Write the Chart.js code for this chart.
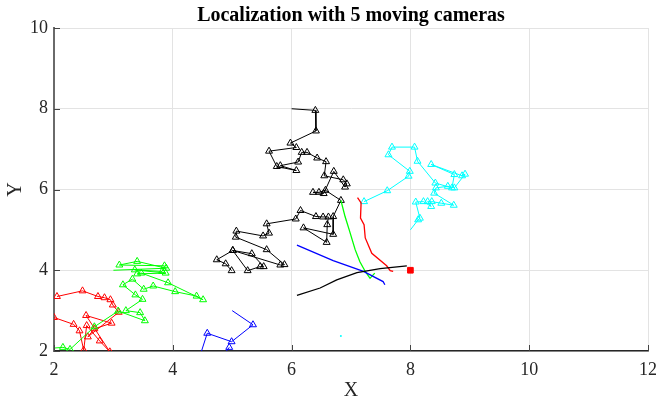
<!DOCTYPE html>
<html lang="en">

<head>
    <meta charset="UTF-8">
    <title>Localization with 5 moving cameras</title>
    <script src="https://cdn.jsdelivr.net/npm/chart.js"></script>
    <style>
        body {
            margin: 0;
            background: #fff;
        }

        #wrap {
            width: 660px;
            height: 399px;
        }
    </style>
</head>

<body>
    <div id="wrap"><canvas id="chart" width="660" height="399"></canvas></div>

    <script>
        // camera tracks (triangle markers)
        const blackCamX = [6.00, 6.40, 6.41, 5.98, 6.08, 5.62, 5.75, 6.08, 5.81, 6.11, 6.17, 6.26, 6.43, 6.58, 6.55, 6.87, 6.93, 6.90, 6.71, 6.54, 6.36, 6.46, 6.57, 6.83, 6.70, 6.70, 6.20, 6.59, 6.60, 6.62, 6.53, 6.41, 6.15, 6.07, 5.58, 5.62, 5.52, 5.07, 5.06, 5.58, 5.88, 5.81, 5.01, 5.33, 5.53, 5.47, 5.26, 5.01, 4.74, 4.89, 4.99];
        const blackCamY = [8.00, 7.96, 7.45, 7.15, 7.04, 6.95, 6.57, 6.47, 6.59, 6.68, 6.92, 6.92, 6.78, 6.69, 6.34, 6.24, 6.14, 6.06, 6.45, 5.90, 5.93, 5.93, 5.98, 5.73, 5.33, 4.89, 5.05, 4.69, 5.13, 5.32, 5.32, 5.33, 5.48, 5.27, 5.15, 4.92, 4.85, 4.97, 4.82, 4.51, 4.14, 4.13, 4.49, 4.41, 4.09, 4.09, 3.99, 4.49, 4.26, 4.16, 3.99];
        const cyanCamX = [8.00, 8.13, 8.16, 8.09, 8.22, 8.35, 8.29, 8.36, 8.52, 8.73, 8.40, 8.43, 8.63, 8.74, 8.92, 8.87, 8.35, 8.74, 8.70, 8.42, 8.12, 8.07, 7.69, 7.63, 7.99, 7.97, 7.61, 7.22];
        const cyanCamY = [5.00, 5.25, 5.29, 5.69, 5.70, 5.58, 5.70, 5.70, 5.66, 5.61, 5.91, 6.04, 6.08, 6.04, 6.38, 6.34, 6.62, 6.37, 6.04, 6.16, 6.70, 7.05, 7.05, 6.86, 6.45, 6.33, 5.97, 5.70];
        const blueCamX = [5.00, 5.35, 4.99, 4.58, 4.44, 4.80, 4.95];
        const blueCamY = [3.00, 2.65, 2.23, 2.44, 1.80, 1.80, 2.09];
        const redCamX = [2.05, 2.48, 2.74, 2.85, 2.95, 2.99, 3.09, 2.57, 2.68, 2.97, 2.54, 2.94, 2.77, 2.55, 2.50, 2.43, 2.33, 2.00];
        const redCamY = [3.35, 3.49, 3.35, 3.32, 3.27, 3.14, 2.96, 2.35, 2.55, 2.69, 2.88, 1.98, 2.25, 2.63, 2.02, 2.50, 2.66, 2.83];
        const greenCamX = [3.00, 3.89, 3.40, 3.10, 3.86, 3.82, 3.36, 3.88, 3.40, 3.47, 3.92, 4.51, 4.40, 4.04, 3.67, 3.51, 3.32, 3.16, 3.37, 3.49, 3.21, 3.45, 3.53, 3.08, 2.68, 2.27, 2.15, 1.80];
        const greenCamY = [4.00, 4.05, 4.22, 4.13, 4.11, 3.97, 4.01, 3.93, 3.91, 3.93, 3.69, 3.27, 3.36, 3.47, 3.61, 3.53, 3.78, 3.64, 3.39, 3.28, 3.00, 2.95, 2.75, 2.99, 2.60, 2.04, 2.09, 2.05];

        // estimated target paths (plain lines)
        const blackEstX = [6.09, 6.48, 6.76, 7.10, 7.49, 7.94];
        const blackEstY = [3.38, 3.56, 3.76, 3.94, 4.04, 4.11];
        const blueEstX = [6.09, 6.70, 7.21, 7.54, 7.57];
        const blueEstY = [4.62, 4.24, 3.97, 3.72, 3.64];
        const greenEstX = [6.83, 6.90, 6.97, 7.07, 7.15, 7.24, 7.32, 7.40];
        const greenEstY = [5.73, 5.33, 5.00, 4.51, 4.21, 3.97, 3.80, 3.93];
        const redEstX = [7.11, 7.17, 7.16, 7.22, 7.24, 7.35, 7.60, 7.66, 7.71];
        const redEstY = [5.80, 5.67, 5.29, 5.13, 4.80, 4.42, 4.11, 3.99, 3.97];
        const cyanEstX = [6.83];
        const cyanEstY = [2.37];

        // true target
        const targetX = [8];
        const targetY = [4];

        const xTicks = [2, 4, 6, 8, 10, 12];
        const yTicks = [2, 4, 6, 8, 10];

        const titleText = 'Localization with 5 moving cameras';
        const serif = 'Liberation Serif';

        function pts(xs, ys) {
            return xs.map((x, i) => ({ x: x, y: ys[i] }));
        }

        function camSet(xs, ys, color, skipFirst) {
            return {
                data: pts(xs, ys),
                showLine: true,
                borderColor: color,
                borderWidth: 1,
                pointStyle: 'triangle',
                pointRadius: ctx => (skipFirst && ctx.dataIndex === 0) ? 0 : 4,
                pointBorderColor: color,
                pointBackgroundColor: 'rgba(0,0,0,0)',
                pointBorderWidth: 1
            };
        }

        function estSet(xs, ys, color) {
            return {
                data: pts(xs, ys),
                showLine: true,
                borderColor: color,
                borderWidth: 1.3,
                pointRadius: xs.length === 1 ? 1 : 0,
                pointBackgroundColor: color,
                pointBorderWidth: 0
            };
        }

        // inward tick marks + title centred over the plot box, MATLAB style
        const matlabLook = {
            id: 'matlabLook',
            afterDraw(chart) {
                const { ctx, chartArea, scales } = chart;
                ctx.save();
                ctx.strokeStyle = '#444';
                ctx.lineWidth = 1;
                ctx.beginPath();
                xTicks.forEach(v => {
                    const px = Math.round(scales.x.getPixelForValue(v)) + 0.5;
                    ctx.moveTo(px, chartArea.bottom);
                    ctx.lineTo(px, chartArea.bottom - 6);
                });
                yTicks.forEach(v => {
                    const py = Math.round(scales.y.getPixelForValue(v)) + 0.5;
                    ctx.moveTo(chartArea.left, py);
                    ctx.lineTo(chartArea.left + 6, py);
                });
                ctx.stroke();

                ctx.fillStyle = '#000';
                ctx.font = 'bold 20px "' + serif + '"';
                ctx.textAlign = 'center';
                ctx.textBaseline = 'alphabetic';
                ctx.fillText(titleText, (chartArea.left + chartArea.right) / 2, 21);
                ctx.restore();
            }
        };

        new Chart(document.getElementById('chart'), {
            type: 'scatter',
            data: {
                datasets: [
                    {
                        data: pts(targetX, targetY),
                        pointStyle: 'rect',
                        pointRadius: 4,
                        pointBackgroundColor: '#ff0000',
                        pointBorderColor: '#ff0000'
                    },
                    estSet(blackEstX, blackEstY, '#000000'),
                    estSet(blueEstX, blueEstY, '#0000ff'),
                    estSet(greenEstX, greenEstY, '#00ff00'),
                    estSet(redEstX, redEstY, '#ff0000'),
                    estSet(cyanEstX, cyanEstY, '#00ffff'),
                    camSet(blackCamX, blackCamY, '#000000', true),
                    camSet(cyanCamX, cyanCamY, '#00ffff', true),
                    camSet(blueCamX, blueCamY, '#0000ff', true),
                    camSet(greenCamX, greenCamY, '#00ff00', true),
                    camSet(redCamX, redCamY, '#ff0000', false)
                ]
            },
            options: {
                responsive: false,
                animation: false,
                layout: { padding: { left: 0, right: 12, top: 28, bottom: 0 } },
                plugins: {
                    legend: { display: false },
                    tooltip: { enabled: false },
                    title: { display: false }
                },
                scales: {
                    x: {
                        type: 'linear',
                        min: 2,
                        max: 12,
                        afterBuildTicks: s => { s.ticks = xTicks.map(v => ({ value: v })); },
                        afterFit: s => { s.height = 48; s.paddingLeft = 0; s.paddingRight = 0; },
                        grid: { color: '#e3e3e3', drawTicks: false },
                        border: { color: '#262626', width: 1.5 },
                        ticks: { color: '#262626', padding: 8, font: { family: serif, size: 18 } },
                        title: {
                            display: true,
                            text: 'X',
                            color: '#262626',
                            font: { family: serif, size: 20, lineHeight: 0.8 },
                            padding: { top: 0, bottom: 0 }
                        }
                    },
                    y: {
                        type: 'linear',
                        min: 2,
                        max: 10,
                        afterBuildTicks: s => { s.ticks = yTicks.map(v => ({ value: v })); },
                        afterFit: s => { s.width = 54; s.paddingTop = 0; s.paddingBottom = 0; },
                        grid: { color: '#e3e3e3', drawTicks: false },
                        border: { color: '#6a6a6a', width: 2 },
                        ticks: { color: '#262626', padding: 6, font: { family: serif, size: 18 } },
                        title: {
                            display: true,
                            text: 'Y',
                            color: '#262626',
                            font: { family: serif, size: 20, lineHeight: 0.8 },
                            padding: { top: 8, bottom: 0 }
                        }
                    }
                }
            },
            plugins: [matlabLook]
        });
    </script>
</body>

</html>
